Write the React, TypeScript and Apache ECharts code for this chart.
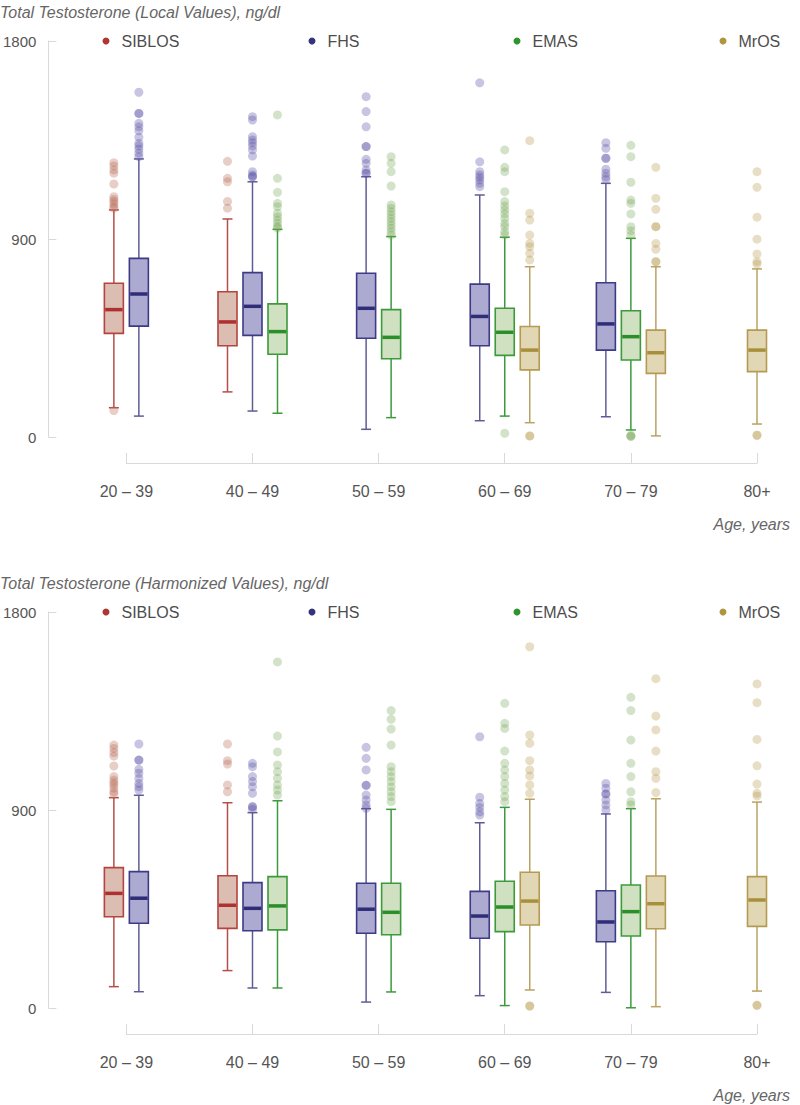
import React, { useEffect, useRef } from 'react';
import * as echarts from 'echarts';

// ---------------- data ----------------
const categories = ['20 – 39', '40 – 49', '50 – 59', '60 – 69', '70 – 79', '80+'];
const cohorts = ['SIBLOS', 'FHS', 'EMAS', 'MrOS'];
const yMin = 0;
const yMax = 1800;
const yInterval = 900;

// [low whisker, Q1, median, Q3, high whisker] per age group (null = cohort absent)
const siblosLocal = [[133, 471, 579, 699, 1032], [205, 415, 523, 660, 991], null, null, null, null];
const fhsLocal = [[95, 504, 650, 812, 1264], [118, 462, 594, 747, 1160], [35, 449, 585, 744, 1183], [74, 415, 548, 695, 1100], [92, 395, 514, 701, 1153], null];
const emasLocal = [null, [108, 376, 479, 605, 944], [88, 356, 453, 579, 911], [95, 371, 476, 585, 908], [32, 350, 456, 574, 903], null];
const mrosLocal = [null, null, null, [65, 305, 395, 502, 774], [5, 289, 383, 486, 774], [59, 297, 395, 486, 764]];

const siblosLocalOut = [[1247, 1232, 1214, 1199, 1150, 1092, 1080, 1070, 1059, 1047, 1040, 120], [1253, 1176, 1160, 1071, 1040], [], [], [], []];
const fhsLocalOut = [
  [1567, 1471, 1471, 1426, 1410, 1392, 1362, 1335, 1323, 1308, 1290, 1274],
  [1456, 1441, 1365, 1350, 1338, 1323, 1305, 1277, 1206, 1191, 1183, 1183],
  [1547, 1479, 1410, 1320, 1320, 1262, 1244, 1214, 1199, 1199],
  [1610, 1251, 1206, 1191, 1180, 1168, 1153, 1138],
  [1338, 1312, 1267, 1267, 1217, 1199, 1183, 1171],
  [],
];
const emasLocalOut = [
  [],
  [1464, 1176, 1112, 1062, 1047, 1017, 1001, 986, 971, 956, 950],
  [1274, 1244, 1206, 1141, 1055, 1040, 1024, 1009, 994, 979, 964, 949, 933, 918],
  [1305, 1226, 1206, 1115, 1070, 1050, 1032, 1014, 994, 971, 956, 933, 918, 17],
  [1326, 1274, 1158, 1077, 1062, 1014, 956, 938, 918, 8, 3, 3],
  [],
];
const mrosLocalOut = [[], [], [], [1347, 1017, 986, 918, 880, 865, 835, 805, 5, 5], [1226, 1085, 1035, 956, 956, 880, 853, 797, 797], [1206, 1135, 999, 899, 832, 797, 786, 8, 8]];

const siblosHarm = [[97, 415, 521, 638, 956], [170, 362, 467, 601, 933], null, null, null, null];
const fhsHarm = [[74, 385, 499, 620, 967], [91, 351, 453, 570, 888], [27, 340, 449, 567, 906], [56, 317, 418, 530, 842], [71, 301, 391, 533, 882], null];
const emasHarm = [null, [91, 355, 464, 597, 942], [73, 333, 435, 567, 903], [11, 347, 459, 576, 912], [1, 327, 438, 559, 906], null];
const mrosHarm = [null, null, null, [82, 377, 486, 617, 949], [6, 360, 474, 600, 951], [77, 371, 491, 597, 936]];

const siblosHarmOut = [[1195, 1180, 1161, 1145, 1100, 1052, 1036, 1024, 1014, 999, 983, 973], [1200, 1124, 1109, 1014, 983], [], [], [], []];
const fhsHarmOut = [
  [1200, 1127, 1127, 1085, 1067, 1044, 1021, 1006, 991],
  [1112, 1097, 1052, 1029, 1006, 976, 915, 915, 903],
  [1185, 1135, 1082, 1012, 1012, 968, 945, 923, 908],
  [1233, 958, 930, 912, 892, 877],
  [1021, 999, 973, 973, 945, 923, 900],
  [],
];
const emasHarmOut = [
  [],
  [1573, 1236, 1164, 1105, 1074, 1044, 1014, 991, 968],
  [1352, 1312, 1268, 1195, 1097, 1074, 1052, 1029, 1006, 983, 961, 938],
  [1385, 1294, 1271, 1168, 1112, 1082, 1052, 1021, 991, 961, 938],
  [1412, 1352, 1218, 1112, 1052, 983, 938, 923],
  [],
];
const mrosHarmOut = [[], [], [], [1642, 1241, 1203, 1124, 1082, 1055, 1014, 976, 9, 9], [1497, 1327, 1264, 1168, 1074, 1044, 979], [1473, 1388, 1221, 1101, 1018, 976, 964, 12, 12]];

const panels = [
  {
    title: 'Total Testosterone (Local Values), ng/dl',
    boxes: [siblosLocal, fhsLocal, emasLocal, mrosLocal],
    outliers: [siblosLocalOut, fhsLocalOut, emasLocalOut, mrosLocalOut],
  },
  {
    title: 'Total Testosterone (Harmonized Values), ng/dl',
    boxes: [siblosHarm, fhsHarm, emasHarm, mrosHarm],
    outliers: [siblosHarmOut, fhsHarmOut, emasHarmOut, mrosHarmOut],
  },
];

// ---------------- styles ----------------
const palette: Record<string, any> = {
  SIBLOS: { dot: '#b03636', stroke: '#b3443f', whisker: '#b54e48', fill: '#dcbdb1', median: '#ae3030', outlier: 'rgba(185,110,90,0.42)' },
  FHS: { dot: '#35337a', stroke: '#3d3b85', whisker: '#5e5c98', fill: '#adaad1', median: '#2f2d77', outlier: 'rgba(90,84,165,0.42)' },
  EMAS: { dot: '#2e952e', stroke: '#3c9a3c', whisker: '#3c9a3c', fill: '#d0e1c1', median: '#2a8e2a', outlier: 'rgba(110,165,80,0.38)' },
  MrOS: { dot: '#b0953f', stroke: '#b49a52', whisker: '#b9a262', fill: '#e2d7b5', median: '#a88f3a', outlier: 'rgba(180,152,75,0.40)' },
};
const SLOT = 25;
const BOX_W = 19;
const CAP_W = 10;
const GRID_TOP = [41, 612];
const GRID_H = 396;
const LEGEND_LEFT = [102.5, 308.5, 513.5, 719.5];
const TEXT_FONT = 'Liberation Sans, Arial, Helvetica, sans-serif';

function slotOffset(boxes: any[][], k: number, ci: number) {
  const present: number[] = [];
  boxes.forEach((b, j) => {
    if (b[ci]) present.push(j);
  });
  const idx = present.indexOf(k);
  return (idx - (present.length - 1) / 2) * SLOT;
}

function buildOption() {
  const series: any[] = [];
  panels.forEach((p, g) => {
    cohorts.forEach((name, k) => {
      const col = palette[name];
      const boxData: any[] = [];
      const outData: any[] = [];
      p.boxes[k].forEach((b: number[] | null, ci: number) => {
        if (!b) return;
        const dx = slotOffset(p.boxes, k, ci);
        boxData.push([ci, ...b, dx]);
        p.outliers[k][ci].forEach((v: number) => {
          outData.push({ value: [ci, v], symbolOffset: [dx, 0] });
        });
      });
      series.push({
        type: 'custom',
        name,
        xAxisIndex: g,
        yAxisIndex: g,
        encode: { x: 0, y: [1, 2, 3, 4, 5] },
        data: boxData,
        z: 2,
        renderItem: (params: any, api: any) => {
          const ci = api.value(0);
          const dx = api.value(6);
          const x = api.coord([ci, 0])[0] + dx;
          const yy = (i: number) => api.coord([ci, api.value(i)])[1];
          const yLow = yy(1), yQ1 = yy(2), yMed = yy(3), yQ3 = yy(4), yHigh = yy(5);
          const ls = { stroke: col.whisker, lineWidth: 1.5 };
          return {
            type: 'group',
            children: [
              { type: 'line', shape: { x1: x, y1: yHigh, x2: x, y2: yQ3 }, style: ls },
              { type: 'line', shape: { x1: x, y1: yQ1, x2: x, y2: yLow }, style: ls },
              { type: 'line', shape: { x1: x - CAP_W / 2, y1: yHigh, x2: x + CAP_W / 2, y2: yHigh }, style: ls },
              { type: 'line', shape: { x1: x - CAP_W / 2, y1: yLow, x2: x + CAP_W / 2, y2: yLow }, style: ls },
              {
                type: 'rect',
                shape: { x: x - BOX_W / 2, y: yQ3, width: BOX_W, height: yQ1 - yQ3 },
                style: { fill: col.fill, stroke: col.stroke, lineWidth: 1.6 },
              },
              {
                type: 'line',
                shape: { x1: x - BOX_W / 2 + 0.8, y1: yMed, x2: x + BOX_W / 2 - 0.8, y2: yMed },
                style: { stroke: col.median, lineWidth: 3.5 },
              },
            ],
          };
        },
      });
      series.push({
        type: 'scatter',
        name,
        xAxisIndex: g,
        yAxisIndex: g,
        symbol: 'circle',
        symbolSize: 9,
        z: 3,
        itemStyle: { color: col.outlier },
        emphasis: { disabled: true },
        data: outData,
      });
    });
  });

  const legend: any[] = [];
  [0, 1].forEach((g) => {
    cohorts.forEach((name, i) => {
      legend.push({
        data: [{ name, icon: 'circle', itemStyle: { color: palette[name].dot } }],
        left: LEGEND_LEFT[i],
        top: GRID_TOP[g] - 10,
        padding: 0,
        itemWidth: 7,
        itemHeight: 7,
        selectedMode: false,
        textStyle: { fontSize: 16, color: '#4d4d4d', fontFamily: TEXT_FONT, lineHeight: 20, padding: [0, 0, 0, 7] },
      });
    });
  });

  const titleStyle = { fontStyle: 'italic', fontWeight: 'normal', fontSize: 16, color: '#666', fontFamily: TEXT_FONT, lineHeight: 18 };
  const title: any[] = [];
  panels.forEach((p, g) => {
    title.push({ text: p.title, left: 0, top: GRID_TOP[g] - 38, padding: 0, textStyle: titleStyle });
    title.push({ text: 'Age, years', right: 10, top: GRID_TOP[g] + GRID_H + 78, padding: 0, textStyle: titleStyle });
  });

  const axisLineColor = '#d9d9d9';
  return {
    animation: false,
    backgroundColor: '#ffffff',
    title,
    legend,
    grid: GRID_TOP.map((top) => ({ left: 124, right: 43, top, height: GRID_H })),
    xAxis: [0, 1].map((g) => ({
      type: 'category',
      gridIndex: g,
      data: categories,
      boundaryGap: false,
      offset: 26,
      axisLine: { show: true, onZero: false, lineStyle: { color: axisLineColor, width: 1 } },
      axisTick: { show: true, inside: true, length: 10, lineStyle: { color: axisLineColor } },
      axisLabel: { color: '#555', fontSize: 16, margin: 20, fontFamily: TEXT_FONT },
      splitLine: { show: false },
    })),
    yAxis: [0, 1].map((g) => ({
      type: 'value',
      gridIndex: g,
      min: yMin,
      max: yMax,
      interval: yInterval,
      offset: 78,
      axisLine: { show: true, onZero: false, lineStyle: { color: axisLineColor, width: 1 } },
      axisTick: { show: true, inside: true, length: 8, lineStyle: { color: axisLineColor } },
      axisLabel: { color: '#555', fontSize: 15, margin: 12, fontFamily: TEXT_FONT, formatter: (v: number) => String(v) },
      splitLine: { show: false },
    })),
    series,
  };
}

export default function App() {
  const ref = useRef<HTMLDivElement>(null);
  useEffect(() => {
    if (!ref.current) return;
    const chart = echarts.init(ref.current, undefined, { renderer: 'svg' });
    chart.setOption(buildOption() as any);
    return () => chart.dispose();
  }, []);
  return (
    <div
      ref={ref}
      style={{ position: 'absolute', left: 0, top: 0, width: 800, height: 1105, background: '#fff' }}
    />
  );
}
